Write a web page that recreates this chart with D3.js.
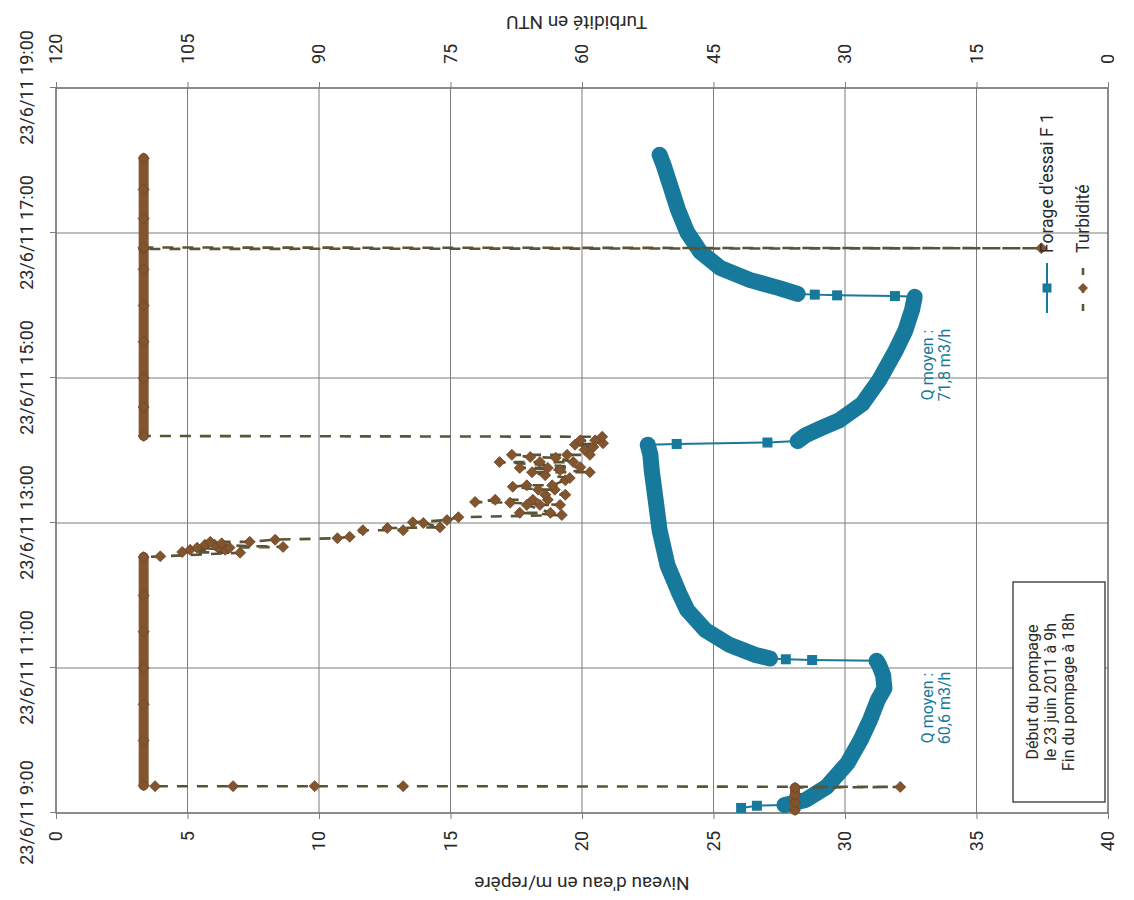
<!DOCTYPE html>
<html><head><meta charset="utf-8">
<script src="https://cdn.jsdelivr.net/npm/d3@7"></script>
<style>
body{margin:0;background:#fff;}
svg text{font-family:Roboto,"Open Sans",sans-serif;}
</style></head><body>
<svg id="chart" width="1134" height="900"></svg>
<script>
// ---- tick values ----
const timeTicksH = [9, 11, 13, 15, 17, 19];
const levelTicks = [0, 5, 10, 15, 20, 25, 30, 35, 40];
const turbTicks = [0, 15, 30, 45, 60, 75, 90, 105, 120];

// ---- Forage d'essai F1 : water level (hour of 23/6/2011, m/repère) ----
const levelHours = [9.07, 9.10, 9.11, 9.18, 9.36, 9.69, 10.01, 10.28, 10.56, 10.72, 10.90, 11.04, 11.10,
  11.11, 11.12, 11.13, 11.18, 11.32, 11.52, 11.80, 12.03, 12.42, 12.90, 13.32, 13.73, 13.94, 14.08,
  14.09, 14.11, 14.13, 14.21, 14.31, 14.42, 14.64, 14.97, 15.36, 15.66, 15.94, 16.12,
  16.13, 16.14, 16.15, 16.16, 16.24, 16.35, 16.52, 16.74, 17.01, 17.32, 17.66, 17.94, 18.08];
const levelValues = [26.05, 26.65, 27.7, 28.5, 29.3, 30.1, 30.6, 30.95, 31.25, 31.5, 31.45, 31.3, 31.2,
  28.75, 27.75, 27.15, 26.6, 25.6, 24.7, 24.0, 23.7, 23.25, 22.95, 22.8, 22.65, 22.6, 22.5,
  23.6, 27.05, 28.2, 28.5, 29.1, 29.8, 30.65, 31.3, 31.9, 32.3, 32.55, 32.65,
  31.9, 29.7, 28.85, 28.2, 27.5, 26.4, 25.25, 24.5, 24.0, 23.65, 23.35, 23.1, 22.95];

// ---- Turbidité (hour, NTU) ----
const turbHours = [9.04, 9.15, 9.25, 9.35, 9.36, 9.37, 9.37, 9.37, 9.37, 9.38,
  10.0, 10.5, 11.0, 11.5, 12.0, 12.53,
  12.54, 12.59, 12.60, 12.63, 12.63, 12.66, 12.66, 12.66, 12.67, 12.70, 12.70, 12.72, 12.74, 12.74,
  12.77, 12.79, 12.81, 12.90, 12.90, 12.93, 12.94, 13.00, 13.01, 13.04, 13.08, 13.11, 13.14, 13.14,
  13.25, 13.25, 13.25, 13.28, 13.29, 13.32, 13.32, 13.32, 13.39, 13.39, 13.46, 13.46, 13.50, 13.52,
  13.52, 13.59, 13.62, 13.66, 13.70, 13.70, 13.73, 13.76, 13.76, 13.77, 13.84, 13.84, 13.84, 13.90,
  13.91, 13.94, 13.94, 13.94, 14.01, 14.05, 14.08, 14.10, 14.14, 14.14, 14.19,
  14.20, 14.6, 15.0, 15.5, 16.0, 16.5, 16.78, 16.79, 16.80, 17.2, 17.6, 18.03];
const turbValues = [35.7, 35.7, 35.7, 35.7, 23.7, 80.4, 90.5, 99.8, 108.7, 110,
  110, 110, 110, 110, 110, 110,
  108.1, 99.0, 105.6, 104.7, 100.7, 103.9, 101.5, 100.2, 94.1, 103.0, 101.9, 101.1, 102.4, 97.9,
  95.0, 87.9, 86.5, 85.0, 80.4, 82.2, 76.2, 78.1, 79.3, 75.4, 74.1, 62.3, 67.1, 63.6,
  66.3, 64.8, 62.5, 68.2, 72.2, 69.9, 65.6, 63.9, 64.2, 61.9, 63.1, 65.0, 67.9, 66.3,
  63.4, 61.9, 61.4, 64.2, 65.7, 59.1, 62.5, 67.1, 63.9, 60.2, 69.4, 64.8, 61.0, 63.0,
  65.9, 68.0, 61.7, 59.1, 59.7, 58.7, 60.8, 57.6, 60.2, 58.5, 57.7,
  110, 110, 110, 110, 110, 110, 110, 7.6, 110, 110, 110, 110];

const seriesNames = ["Forage d'essai F 1", "Turbidité"];
const noteBox = ["Début du pompage", "le 23 juin 2011 à 9h", "Fin du pompage à 18h"];
const flowNotes = [["Q moyen :", "60,6 m3/h"], ["Q moyen :", "71,8 m3/h"]];
const flowNoteHours = [10.45, 15.18];
const flowNoteLevel = 33.35;

// ---- layout (original chart is drawn, then turned a quarter turn) ----
const X0 = 56, Y0 = 813, W = 725, H = 1052;
const BLUE = "#17799b", BROWN = "#83552f", DASH = "#5a5436", GRID = "#7d7d7d", TXT = "#2a2a2a";
const FONT = 'Roboto,"Open Sans",sans-serif';

const base = new Date(2011, 5, 23, 0, 0, 0).getTime();
const toDate = h => new Date(base + h * 3600000);

const svg = d3.select("#chart");
const g = svg.append("g").attr("transform", `translate(${X0},${Y0}) rotate(-90)`);

const x = d3.scaleTime().domain([toDate(9), toDate(19)]).range([0, W]);
const yL = d3.scaleLinear().domain([0, 40]).range([0, H]);
const yT = d3.scaleLinear().domain([0, 120]).range([H, 0]);

// grid
g.append("g").selectAll("line").data(timeTicksH).join("line")
  .attr("x1", h => x(toDate(h))).attr("x2", h => x(toDate(h)))
  .attr("y1", 0).attr("y2", H).attr("stroke", GRID).attr("stroke-width", 1);
g.append("g").selectAll("line").data(levelTicks).join("line")
  .attr("x1", 0).attr("x2", W).attr("y1", d => yL(d)).attr("y2", d => yL(d))
  .attr("stroke", GRID).attr("stroke-width", 1);
g.append("rect").attr("x", 0).attr("y", 0).attr("width", W).attr("height", H)
  .attr("fill", "none").attr("stroke", "#6a6a6a").attr("stroke-width", 1.2);

function styleAxis(sel, size) {
  sel.select(".domain").remove();
  sel.selectAll(".tick line").attr("stroke", GRID);
  sel.selectAll("text").attr("fill", TXT).attr("font-size", size).attr("font-family", FONT);
}
g.append("g").call(d3.axisTop(x).tickValues(timeTicksH.map(toDate))
    .tickFormat(d3.timeFormat("%-d/%-m/%y %-H:%M")).tickSize(6).tickPadding(17))
  .call(s => styleAxis(s, 18));
g.append("g").call(d3.axisLeft(yL).tickValues(levelTicks).tickSize(6).tickPadding(12))
  .call(s => styleAxis(s, 18));
g.append("g").attr("transform", `translate(${W},0)`)
  .call(d3.axisRight(yT).tickValues(turbTicks).tickSize(6).tickPadding(18))
  .call(s => styleAxis(s, 18));

// axis titles
g.append("text").attr("transform", `translate(${-70},${yL(20)}) rotate(-90)`)
  .attr("text-anchor", "middle").attr("dominant-baseline", "central")
  .attr("font-size", 19).attr("font-family", FONT).attr("fill", TXT)
  .text("Niveau d'eau en m/repère");
g.append("text").attr("transform", `translate(${W + 66},${yL(19.8)}) rotate(-90)`)
  .attr("text-anchor", "middle").attr("dominant-baseline", "central")
  .attr("font-size", 19).attr("font-family", FONT).attr("fill", TXT)
  .text("Turbidité en NTU");

function runs(pts, test) {
  const out = []; let cur = null;
  for (let i = 1; i < pts.length; i++) {
    if (test(pts[i - 1], pts[i])) {
      if (!cur) { cur = [pts[i - 1]]; out.push(cur); }
      cur.push(pts[i]);
    } else cur = null;
  }
  return out;
}

// ---- water level series ----
const lp = levelHours.map((h, i) => ({ h, t: toDate(h), v: levelValues[i] }));
const lineL = d3.line().x(d => x(d.t)).y(d => yL(d.v));
const gl = g.append("g");
gl.selectAll("path.band").data(runs(lp, (a, b) => b.h - a.h > 0.035)).join("path")
  .attr("d", lineL).attr("fill", "none").attr("stroke", BLUE)
  .attr("stroke-width", 16).attr("stroke-linecap", "round").attr("stroke-linejoin", "round");
gl.append("path").datum(lp).attr("d", lineL).attr("fill", "none")
  .attr("stroke", BLUE).attr("stroke-width", 2);
gl.selectAll("rect").data(lp).join("rect")
  .attr("x", d => x(d.t) - 5).attr("y", d => yL(d.v) - 5)
  .attr("width", 10).attr("height", 10).attr("fill", BLUE);

// ---- turbidity series ----
const tp = turbHours.map((h, i) => ({ h, t: toDate(h), v: turbValues[i] }));
const lineT = d3.line().x(d => x(d.t)).y(d => yT(d.v));
const gt = g.append("g");
gt.append("path").datum(tp).attr("d", lineT).attr("fill", "none")
  .attr("stroke", DASH).attr("stroke-width", 2.6).attr("stroke-dasharray", "11,9");
gt.selectAll("path.bar").data(runs(tp, (a, b) => a.v === b.v && b.h > a.h)).join("path")
  .attr("class", "bar").attr("d", lineT).attr("fill", "none").attr("stroke", BROWN)
  .attr("stroke-width", 10).attr("stroke-linecap", "round");
const diamond = r => `M0,${-r}L${r},0L0,${r}L${-r},0Z`;
gt.selectAll("path.pt").data(tp).join("path").attr("class", "pt")
  .attr("transform", d => `translate(${x(d.t)},${yT(d.v)})`)
  .attr("d", diamond(5.5)).attr("fill", BROWN).attr("stroke", "#6a4426").attr("stroke-width", 0.8);

// ---- flow annotations ----
flowNotes.forEach((lines, k) => {
  lines.forEach((s, j) => {
    g.append("text").attr("x", x(toDate(flowNoteHours[k])))
      .attr("y", yL(flowNoteLevel) + j * 17)
      .attr("text-anchor", "middle").attr("font-size", 16).attr("font-family", FONT)
      .attr("fill", BLUE).text(s);
  });
});

// ---- note box ----
const bx = 11, bw = 220, by = 957, bh = 92;
g.append("rect").attr("x", bx).attr("y", by).attr("width", bw).attr("height", bh)
  .attr("fill", "#fff").attr("stroke", "#333").attr("stroke-width", 1.3);
noteBox.forEach((s, i) => {
  g.append("text").attr("x", bx + bw / 2).attr("y", by + 19 + i * 18)
    .attr("text-anchor", "middle").attr("dominant-baseline", "central")
    .attr("font-size", 16).attr("font-family", FONT).attr("fill", TXT).text(s);
});

// ---- legend ----
const lg = g.append("g").attr("transform", "translate(500,991)");
lg.append("line").attr("x1", 0).attr("x2", 50).attr("y1", 0).attr("y2", 0)
  .attr("stroke", BLUE).attr("stroke-width", 2);
lg.append("rect").attr("x", 20.5).attr("y", -4.5).attr("width", 9).attr("height", 9).attr("fill", BLUE);
lg.append("text").attr("x", 60).attr("y", 0).attr("dominant-baseline", "central")
  .attr("font-size", 17.5).attr("font-family", FONT).attr("fill", TXT).text(seriesNames[0]);
const lg2 = g.append("g").attr("transform", "translate(500,1027)");
lg2.append("line").attr("x1", 0).attr("x2", 50).attr("y1", 0).attr("y2", 0)
  .attr("stroke", DASH).attr("stroke-width", 2.6).attr("stroke-dasharray", "7,11").attr("stroke-dashoffset", -2);
lg2.append("path").attr("transform", "translate(25,0)").attr("d", diamond(5)).attr("fill", BROWN);
lg2.append("text").attr("x", 60).attr("y", 0).attr("dominant-baseline", "central")
  .attr("font-size", 17.5).attr("font-family", FONT).attr("fill", TXT).text(seriesNames[1]);
</script>
</body></html>
